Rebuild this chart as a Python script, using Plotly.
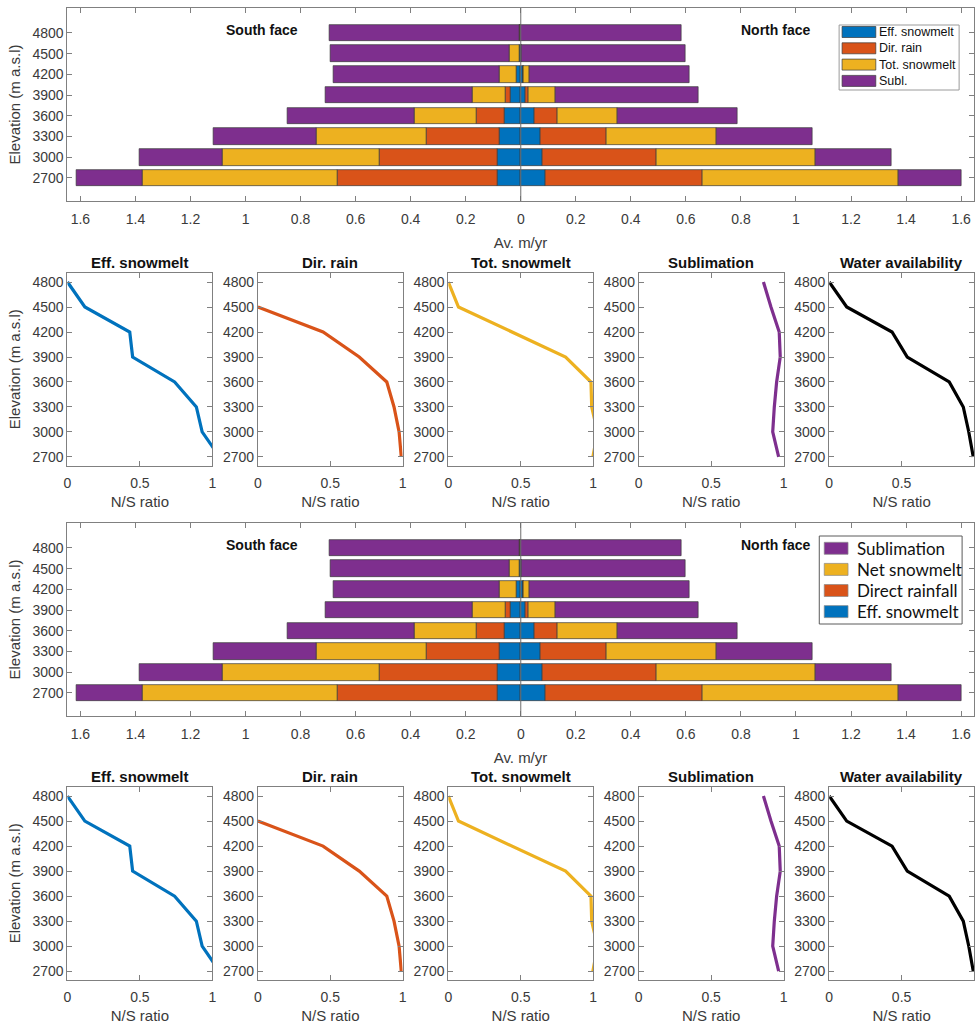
import plotly.graph_objects as go

W, H = 978, 1025

FONT = "Liberation Sans, Arial, sans-serif"
LEGEND_FONT_2 = "Lato, sans-serif"
AXIS_COLOR = "#808080"
TEXT_COLOR = "#3a3a3a"

BLUE = "#0072BD"
ORANGE = "#D95319"
YELLOW = "#EDB120"
PURPLE = "#7E2F8E"
BLACK = "#000000"

# Elevation bands (m a.s.l.)
elevations = [2700, 3000, 3300, 3600, 3900, 4200, 4500, 4800]

# South face, average m/yr per component (stacked outward from zero)
south_eff_snowmelt = [0.085, 0.083, 0.079, 0.060, 0.036, 0.015, 0.005, 0.0]
south_dir_rain = [0.582, 0.431, 0.262, 0.102, 0.018, 0.0, 0.0, 0.0]
south_tot_snowmelt = [0.708, 0.571, 0.400, 0.225, 0.120, 0.061, 0.035, 0.006]
south_sublimation = [0.238, 0.300, 0.375, 0.459, 0.535, 0.604, 0.651, 0.688]

# North face, average m/yr per component
north_eff_snowmelt = [0.091, 0.079, 0.070, 0.049, 0.017, 0.009, 0.003, 0.0]
north_dir_rain = [0.569, 0.415, 0.242, 0.086, 0.012, 0.0, 0.0, 0.0]
north_tot_snowmelt = [0.711, 0.576, 0.398, 0.218, 0.098, 0.022, 0.0, 0.0]
north_sublimation = [0.229, 0.277, 0.351, 0.433, 0.517, 0.582, 0.594, 0.584]

# North/South ratios per elevation band
ratio_eff_snowmelt = [1.05, 0.93, 0.89, 0.74, 0.45, 0.43, 0.12, 0.0]
ratio_dir_rain = [0.99, 0.975, 0.94, 0.89, 0.70, 0.45, 0.0, None]
ratio_tot_snowmelt = [0.998, 1.03, 0.99, 0.985, 0.81, 0.44, 0.07, 0.0]
ratio_sublimation = [0.966, 0.925, 0.936, 0.952, 0.977, 0.97, 0.913, 0.861]
ratio_water_availability = [0.995, 0.964, 0.926, 0.829, 0.539, 0.434, 0.121, 0.0]

# Tick labels
bar_xticks = [-1.6, -1.4, -1.2, -1.0, -0.8, -0.6, -0.4, -0.2, 0.0,
              0.2, 0.4, 0.6, 0.8, 1.0, 1.2, 1.4, 1.6]
bar_xticklabels = ["1.6", "1.4", "1.2", "1", "0.8", "0.6", "0.4", "0.2", "0",
                   "0.2", "0.4", "0.6", "0.8", "1", "1.2", "1.4", "1.6"]
ratio_ticks = [0, 0.5, 1]
ratio_ticklabels = ["0", "0.5", "1"]

bar_components = [
    ("Eff. snowmelt", south_eff_snowmelt, north_eff_snowmelt, BLUE),
    ("Dir. rain", south_dir_rain, north_dir_rain, ORANGE),
    ("Tot. snowmelt", south_tot_snowmelt, north_tot_snowmelt, YELLOW),
    ("Subl.", south_sublimation, north_sublimation, PURPLE),
]

ratio_panels = [
    ("Eff. snowmelt", ratio_eff_snowmelt, BLUE),
    ("Dir. rain", ratio_dir_rain, ORANGE),
    ("Tot. snowmelt", ratio_tot_snowmelt, YELLOW),
    ("Sublimation", ratio_sublimation, PURPLE),
    ("Water availability", ratio_water_availability, BLACK),
]

legend_top = [("Eff. snowmelt", BLUE), ("Dir. rain", ORANGE),
              ("Tot. snowmelt", YELLOW), ("Subl.", PURPLE)]
legend_bottom = [("Sublimation", PURPLE), ("Net snowmelt", YELLOW),
                 ("Direct rainfall", ORANGE), ("Eff. snowmelt", BLUE)]


def fx(px):
    return px / W


def fy(py):
    return 1 - py / H


def frame_axis(**kw):
    d = dict(showline=True, linecolor=AXIS_COLOR, linewidth=1, mirror="ticks",
             ticks="inside", ticklen=5, tickwidth=1, tickcolor=AXIS_COLOR,
             showgrid=False, zeroline=False,
             tickfont=dict(family=FONT, size=14, color=TEXT_COLOR))
    d.update(kw)
    return d


fig = go.Figure()
layout = {}
annotations = []
shapes = []

panel_left = [64, 256, 448, 640, 832]
panel_width = 146

# (bar axis index, panel axis indices, bar top px, bar bottom px, panel top px, panel bottom px)
blocks = [
    (1, [2, 3, 4, 5, 6], 8, 201, 272.7, 465.7),
    (7, [8, 9, 10, 11, 12], 523, 716, 786.7, 980),
]

for bi, (bar_ax, panel_axes, btop, bbot, ptop, pbot) in enumerate(blocks):
    sfx = "" if bar_ax == 1 else str(bar_ax)
    xa, ya = "x" + sfx, "y" + sfx

    # Stacked horizontal bars: south to the left, north to the right
    for name, south, north, color in bar_components:
        fig.add_trace(go.Bar(
            y=elevations, x=[-v for v in south], orientation="h", width=240,
            marker=dict(color=color, line=dict(color="#3a3a3a", width=0.7)),
            name=name, showlegend=False, xaxis=xa, yaxis=ya))
        fig.add_trace(go.Bar(
            y=elevations, x=north, orientation="h", width=240,
            marker=dict(color=color, line=dict(color="#3a3a3a", width=0.7)),
            name=name, showlegend=False, xaxis=xa, yaxis=ya))

    layout["xaxis" + sfx] = frame_axis(
        domain=[fx(64), fx(977.5)], range=[-1.647, 1.645], anchor=ya,
        tickmode="array", tickvals=bar_xticks, ticktext=bar_xticklabels,
        ticklabelstandoff=5,
        title=dict(text="Av. m/yr", font=dict(family=FONT, size=15, color=TEXT_COLOR),
                   standoff=11))
    layout["yaxis" + sfx] = frame_axis(
        domain=[fy(bbot), fy(btop)], range=[2367, 5160], anchor=xa,
        tickmode="array", tickvals=elevations,
        title=dict(text="Elevation (m a.s.l)", font=dict(family=FONT, size=15, color=TEXT_COLOR),
                   standoff=8))

    # Zero reference line drawn over the bars
    shapes.append(dict(type="line", xref=xa, yref=ya + " domain", x0=0, x1=0, y0=0, y1=1,
                       line=dict(color="#6e6e6e", width=1), layer="above"))

    annotations.append(dict(text="<b>South face</b>", x=-0.94, y=4842, xref=xa, yref=ya,
                            showarrow=False, font=dict(family=FONT, size=14, color="#111")))
    annotations.append(dict(text="<b>North face</b>", x=0.925, y=4842, xref=xa, yref=ya,
                            showarrow=False, font=dict(family=FONT, size=14, color="#111")))

    # N/S ratio panels
    for k, (title, ratios, color) in enumerate(ratio_panels):
        ax = panel_axes[k]
        pxa, pya = "x" + str(ax), "y" + str(ax)
        fig.add_trace(go.Scatter(
            x=ratios, y=elevations, mode="lines", line=dict(color=color, width=3.2),
            showlegend=False, xaxis=pxa, yaxis=pya, connectgaps=False))
        left = panel_left[k]
        layout["xaxis" + str(ax)] = frame_axis(
            domain=[fx(left), min(1.0, fx(left + panel_width))], range=[0, 1], anchor=pya,
            tickmode="array", tickvals=ratio_ticks, ticktext=ratio_ticklabels,
            ticklabelstandoff=4,
            title=dict(text="N/S ratio", font=dict(family=FONT, size=15, color=TEXT_COLOR),
                       standoff=6))
        yax = frame_axis(
            domain=[fy(pbot), fy(ptop)], range=[2595, 4912], anchor=pxa,
            tickmode="array", tickvals=elevations)
        if k == 0:
            yax["title"] = dict(text="Elevation (m a.s.l)",
                                font=dict(family=FONT, size=15, color=TEXT_COLOR), standoff=8)
        layout["yaxis" + str(ax)] = yax
        annotations.append(dict(text="<b>" + title + "</b>", x=0.5, y=1, xref=pxa + " domain",
                                yref=pya + " domain", xanchor="center", yanchor="bottom",
                                yshift=0, showarrow=False,
                                font=dict(family=FONT, size=15, color="#111")))

# Legend, upper bar chart
shapes.append(dict(type="rect", xref="paper", yref="paper", x0=fx(842), x1=fx(963),
                   y0=fy(90), y1=fy(25), line=dict(color="#9a9a9a", width=1),
                   fillcolor="white", layer="above"))
for i, (name, color) in enumerate(legend_top):
    c = 32 + 16.3 * i
    shapes.append(dict(type="rect", xref="paper", yref="paper", x0=fx(845), x1=fx(879),
                       y0=fy(c + 5.5), y1=fy(c - 5.5), line=dict(color="#3a3a3a", width=0.7),
                       fillcolor=color, layer="above"))
    annotations.append(dict(text=name, x=fx(880), y=fy(c), xref="paper", yref="paper",
                            xanchor="left", yanchor="middle", showarrow=False,
                            font=dict(family=FONT, size=12.5, color="#111")))

# Legend, lower bar chart
shapes.append(dict(type="rect", xref="paper", yref="paper", x0=fx(822), x1=fx(966),
                   y0=fy(624), y1=fy(536), line=dict(color="#5a5a5a", width=1),
                   fillcolor="white", layer="above"))
for i, (name, color) in enumerate(legend_bottom):
    c = 548.3 + 21.1 * i
    shapes.append(dict(type="rect", xref="paper", yref="paper", x0=fx(827), x1=fx(851),
                       y0=fy(c + 6), y1=fy(c - 6), line=dict(color="#8a8a8a", width=0.7),
                       fillcolor=color, layer="above"))
    annotations.append(dict(text=name, x=fx(858), y=fy(c), xref="paper", yref="paper",
                            xanchor="left", yanchor="middle", showarrow=False,
                            font=dict(family=LEGEND_FONT_2, size=17, color="#111")))

fig.update_layout(
    width=W, height=H, margin=dict(l=0, r=0, t=0, b=0),
    paper_bgcolor="white", plot_bgcolor="white",
    barmode="relative", bargap=0, showlegend=False,
    annotations=annotations, shapes=shapes,
    font=dict(family=FONT, color=TEXT_COLOR),
    **layout)

fig.write_html("out.html")
